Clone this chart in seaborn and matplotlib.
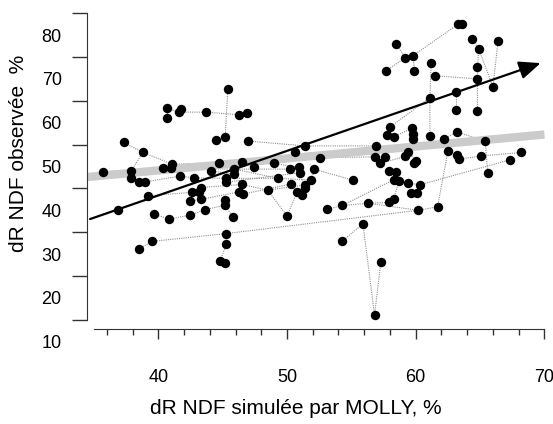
import matplotlib
matplotlib.use("Agg")
import matplotlib.pyplot as plt
import numpy as np
import pandas as pd
import seaborn as sns
from matplotlib.ticker import FixedLocator

# ---------------- data ----------------
point_id = [1, 2, 3, 4, 5, 6, 7, 8, 9, 10, 11, 12, 13, 14, 15, 16, 17, 18, 19, 20,
            21, 22, 23, 24, 25, 26, 27, 28, 29, 30, 31, 32, 33, 34, 35, 36, 37, 38, 39, 40,
            41, 42, 43, 44, 45, 46, 47, 48, 49, 50, 51, 52, 53, 54, 55, 56, 57, 58, 59, 60,
            61, 62, 63, 64, 65, 66, 67, 68, 69, 70, 71, 72, 73, 74, 75, 76, 77, 78, 79, 80,
            81, 82, 83, 84, 85, 86, 87, 88, 89, 90, 91, 92, 93, 94, 95, 96, 97, 98, 99, 100,
            101, 102, 103, 104, 105, 106, 107, 108, 109, 110, 111, 112, 113, 114, 115, 116,
            117, 118, 119, 120, 121, 122, 123, 124, 125, 126, 127, 128, 130, 131, 132, 133,
            134, 135, 136]
sim = [35.7, 37.3, 38.8, 37.9, 37.9, 38.5, 39.0, 36.9, 39.2, 39.7, 40.8, 42.5, 43.6, 45.8, 38.5, 39.5, 45.3, 45.3, 44.8, 45.2,
       40.7, 40.7, 41.6, 41.8, 43.7, 46.3, 46.9, 45.4, 45.2, 44.5, 47.0, 40.4, 41.0, 41.1, 41.7, 42.8, 44.7, 44.1, 45.9, 45.9,
       46.5, 47.4, 49.0, 45.3, 45.3, 46.5, 46.3, 46.6, 43.3, 43.2, 42.6, 42.5, 43.3, 45.2, 45.2, 48.5, 49.3, 50.2, 50.9, 51.0,
       50.3, 51.4, 51.4, 50.8, 51.2, 52.1, 51.9, 50.0, 53.1, 51.4, 50.6, 63.3, 58.5, 59.2, 59.8, 57.7, 59.9, 61.2, 61.5, 64.4,
       64.9, 66.4, 64.8, 64.8, 66.0, 63.1, 61.1, 63.1, 64.8, 58.0, 57.8, 58.3, 59.7, 59.8, 59.8, 61.1, 62.2, 63.2, 65.4, 56.9,
       52.6, 56.8, 57.6, 57.2, 59.2, 59.4, 60.0, 59.9, 62.5, 63.2, 63.4, 65.1, 68.2, 67.3, 65.6, 55.1,
       57.9, 58.5, 58.3, 58.7, 59.4, 60.3, 59.6, 60.1, 58.3, 57.9, 56.3, 54.3, 60.2, 61.7, 55.9, 54.3,
       57.3, 56.8, 63.6]
obs = [48.8, 55.5, 53.2, 49.0, 47.3, 46.5, 46.5, 40.1, 43.3, 39.1, 38.0, 38.9, 40.1, 38.4, 31.2, 32.9, 34.7, 32.3, 28.4, 27.9,
       63.3, 61.0, 62.4, 63.2, 62.4, 61.8, 62.3, 67.6, 56.8, 56.1, 55.8, 49.6, 49.6, 50.5, 47.8, 47.4, 50.7, 49.0, 49.4, 48.2,
       51.1, 49.8, 50.7, 47.3, 46.4, 45.9, 44.2, 43.7, 45.2, 44.2, 44.1, 42.1, 42.5, 42.4, 41.2, 44.6, 47.3, 49.4, 49.8, 48.6,
       46.0, 45.8, 45.0, 44.2, 43.6, 49.4, 46.9, 38.7, 40.2, 54.7, 53.2, 82.5, 77.9, 74.8, 75.3, 71.9, 71.8, 73.6, 70.7, 79.1,
       76.8, 78.7, 72.8, 70.0, 68.2, 66.9, 65.7, 62.8, 62.6, 59.0, 57.2, 56.8, 58.7, 57.4, 56.3, 57.0, 56.3, 57.9, 55.8, 54.7,
       52.0, 52.2, 52.2, 50.7, 52.3, 53.4, 51.3, 50.7, 53.5, 52.7, 51.7, 52.4, 53.2, 51.5, 48.4, 46.9,
       49.0, 48.8, 47.0, 46.7, 46.3, 45.8, 44.0, 43.9, 42.6, 41.8, 41.6, 41.1, 40.0, 40.8, 36.9, 33.0,
       28.3, 16.1, 82.5]

# grey dotted links between treatments of the same study (point ids)
links = [[22, 21, 23, 25, 26, 27], [24, 23], [28, 29, 30],
         [31, 70, 100],
         [2, 3, 34, 41, 43, 59], [3, 4],
         [1, 32, 37, 39, 58],
         [5, 6, 7, 35, 36, 44, 57],
         [9, 51, 50, 49, 46, 56, 62],
         [52, 53, 47, 48, 61, 64],
         [10, 11, 12, 13, 55, 54], [55, 14],
         [15, 16, 17, 130], [17, 18, 19, 20],
         [38, 40, 45, 60, 63, 65],
         [56, 68, 64],
         [33, 39, 57, 67, 66, 116],
         [71, 101, 102, 103],
         [69, 128, 127, 126], [127, 130, 131],
         [73, 74, 76], [74, 75, 72], [75, 77], [72, 136],
         [78, 87, 96], [79, 84], [80, 81, 83, 84, 89], [81, 85, 82], [86, 88],
         [87, 90, 91], [92, 93, 94, 95],
         [97, 98, 99], [99, 115],
         [109, 131], [110, 111, 112, 113], [114, 122, 121, 119, 117], [118, 120, 125],
         [123, 124], [105, 106, 107, 108],
         [135, 132, 133], [135, 134],
         [100, 104, 105], [128, 119]]

# regression band and arrow (end points)
band_x = [34.5, 70.0]
band_y = [47.6, 57.3]
arrow_x = [34.7, 69.7]
arrow_y = [38.0, 73.6]

y_labels = [10, 20, 30, 40, 50, 60, 70, 80]
y_ticks = [15, 25, 35, 45, 55, 65, 75, 85]
x_major = [40, 50, 60, 70]
x_minor = [36, 38, 42, 44, 46, 48, 52, 54, 56, 58, 62, 64, 66, 68]

xlabel = "dR NDF simulée par MOLLY, %"
ylabel = "dR NDF observée  %"

# ---------------- plot ----------------
sns.set_style("ticks")
plt.rcParams['font.family'] = ['Liberation Sans', 'DejaVu Sans']
plt.rcParams['text.color'] = 'black'
plt.rcParams['axes.labelcolor'] = 'black'
plt.rcParams['xtick.labelcolor'] = 'black'
plt.rcParams['ytick.labelcolor'] = 'black'

df = pd.DataFrame({"id": point_id, "sim": sim, "obs": obs})
pos = {pid: i for i, pid in enumerate(point_id)}

fig = plt.figure(figsize=(5.53, 4.24), dpi=100)
ax = fig.add_axes([0.1568, 0.1837, 0.8440, 0.8163])
ax.set_xlim(34.44, 70.7)
ax.set_ylim(9, 88)

for chain in links:
    xs = [sim[pos[p]] for p in chain]
    ys = [obs[pos[p]] for p in chain]
    ax.plot(xs, ys, color="#8f8f8f", lw=0.8, ls=(0, (1, 1)), zorder=1)

ax.plot(band_x, band_y, color="#cbcbcb", lw=6, solid_capstyle="butt", zorder=2)

ax.annotate("", xy=(arrow_x[1], arrow_y[1]), xytext=(arrow_x[0], arrow_y[0]),
            arrowprops=dict(arrowstyle="-|>,head_length=13,head_width=5.5", mutation_scale=1,
                            lw=1.6, color="black", shrinkA=0, shrinkB=0),
            zorder=3)

sns.scatterplot(data=df, x="sim", y="obs", color="black", s=46, linewidth=0,
                ax=ax, zorder=4, legend=False)

for side in ["top", "right"]:
    ax.spines[side].set_visible(False)
ax.spines["left"].set_bounds(15, 85)
ax.spines["left"].set_color("#333333")
ax.spines["bottom"].set_position(("data", 12.9))
ax.spines["bottom"].set_bounds(35, 70)
ax.spines["bottom"].set_color("#333333")

ax.yaxis.set_major_locator(FixedLocator(y_labels))
ax.set_yticklabels([str(v) for v in y_labels])
ax.yaxis.set_minor_locator(FixedLocator(y_ticks))
ax.tick_params(axis="y", which="major", length=0, pad=18, labelsize=13)
ax.tick_params(axis="y", which="minor", length=11, width=1, color="#333333", direction="out")

ax.xaxis.set_major_locator(FixedLocator(x_major))
ax.set_xticklabels([str(v) for v in x_major])
ax.xaxis.set_minor_locator(FixedLocator(x_minor))
ax.tick_params(axis="x", which="major", length=7, width=1, pad=22, labelsize=13,
               color="#333333", direction="out")
ax.tick_params(axis="x", which="minor", length=4.5, width=1, color="#333333", direction="out")

ax.set_xlabel(xlabel, fontsize=15)
ax.xaxis.set_label_coords(0.4485, -0.179)
ax.xaxis.label.set_va("center")
ax.set_ylabel(ylabel, fontsize=15)
ax.yaxis.set_label_coords(-0.147, 0.558)
ax.yaxis.label.set_va("center")

fig.savefig("out.png", dpi=100)
